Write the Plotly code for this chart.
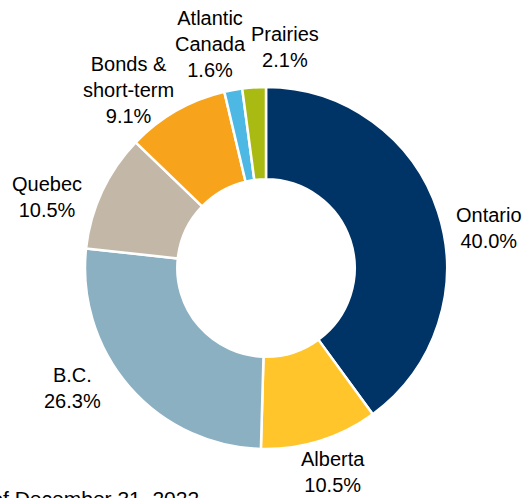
import plotly.graph_objects as go

regions = ["Ontario", "Alberta", "B.C.", "Quebec", "Bonds &<br>short-term", "Atlantic<br>Canada", "Prairies"]
shares = [40.0, 10.5, 26.3, 10.5, 9.1, 1.6, 2.1]
colors = ["#003366", "#FFC52A", "#8AB0C2", "#C3B7A8", "#F8A31C", "#4DB8E4", "#A9BA12"]
footnote = "As of December 31, 2022"

# label centres in window pixels (from top-left)
label_px = [(489, 228), (333, 472), (72, 388), (47, 197), (128, 90), (210, 44), (285, 47)]

W, H = 527, 498
cx, cy, R = 266, 268, 181
FONT = "Liberation Sans, Arial, sans-serif"

fig = go.Figure(go.Pie(
    labels=regions,
    values=shares,
    sort=False,
    direction="clockwise",
    rotation=0,
    hole=0.49,
    marker=dict(colors=colors, line=dict(color="white", width=2.5)),
    textinfo="none",
    showlegend=False,
    hoverinfo="label+value",
    domain=dict(x=[(cx - R) / W, (cx + R) / W], y=[(H - cy - R) / H, (H - cy + R) / H]),
))

for lab, val, (px, py) in zip(regions, shares, label_px):
    fig.add_annotation(
        text=f"{lab}<br>{val:.1f}%", xref="paper", yref="paper",
        x=px / W, y=(H - py) / H, xanchor="center", yanchor="middle",
        showarrow=False, font=dict(family=FONT, size=20, color="black"),
    )

fig.add_annotation(
    text=footnote, xref="paper", yref="paper", x=201 / W, y=(H - 485) / H,
    xanchor="right", yanchor="top", showarrow=False,
    font=dict(family=FONT, size=21, color="black"),
)

fig.update_layout(
    width=W, height=H,
    margin=dict(l=0, r=0, t=0, b=0),
    paper_bgcolor="white", plot_bgcolor="white",
)

fig.write_html(
    "out.html",
    config={"displayModeBar": False},
    post_script="document.body.style.margin='0';document.body.style.overflow='hidden';",
)
